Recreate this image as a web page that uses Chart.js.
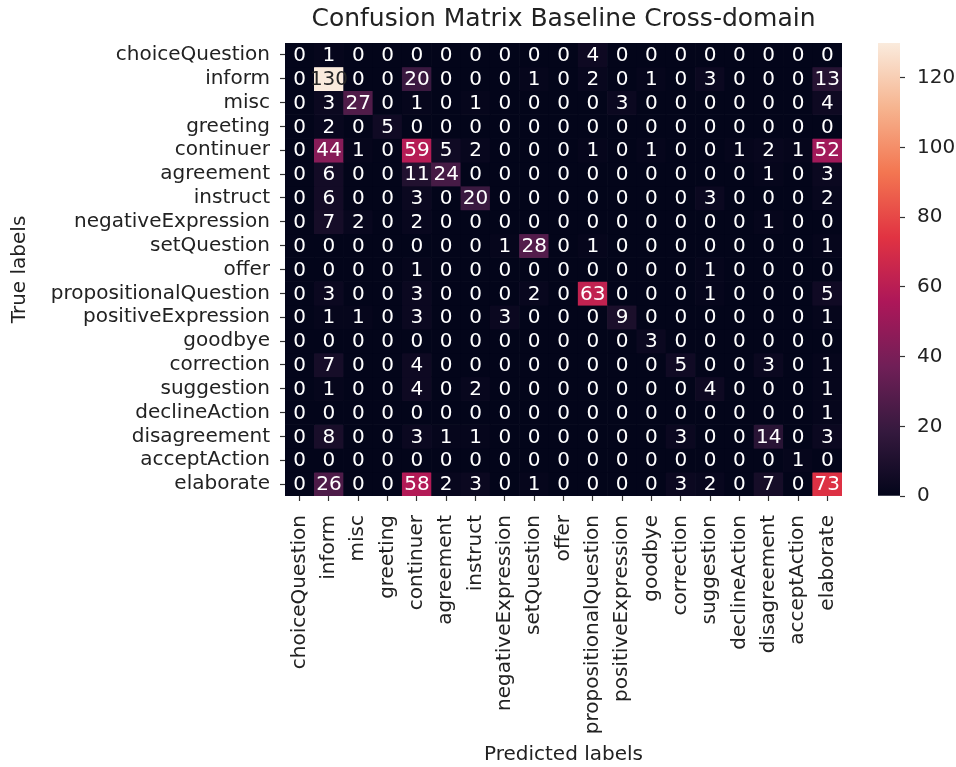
<!DOCTYPE html>
<html>
<head>
<meta charset="utf-8">
<script src="https://cdn.jsdelivr.net/npm/chart.js@4"></script>
<style>
  body { margin: 0; background: #fff; }
  #wrap { position: relative; width: 956px; height: 767px; }
  canvas { position: absolute; left: 0; top: 0; }
</style>
</head>
<body>
<div id="wrap">
  <canvas id="heat" width="956" height="767"></canvas>
  <canvas id="cbar" width="956" height="767"></canvas>
</div>
<script>
const predictedLabels = ['choiceQuestion', 'inform', 'misc', 'greeting', 'continuer', 'agreement', 'instruct',
  'negativeExpression', 'setQuestion', 'offer', 'propositionalQuestion', 'positiveExpression', 'goodbye',
  'correction', 'suggestion', 'declineAction', 'disagreement', 'acceptAction', 'elaborate']
const trueLabels = predictedLabels.slice()

// rows = true label, columns = predicted label
const counts = [
  [0, 1, 0, 0, 0, 0, 0, 0, 0, 0, 4, 0, 0, 0, 0, 0, 0, 0, 0],
  [0, 130, 0, 0, 20, 0, 0, 0, 1, 0, 2, 0, 1, 0, 3, 0, 0, 0, 13],
  [0, 3, 27, 0, 1, 0, 1, 0, 0, 0, 0, 3, 0, 0, 0, 0, 0, 0, 4],
  [0, 2, 0, 5, 0, 0, 0, 0, 0, 0, 0, 0, 0, 0, 0, 0, 0, 0, 0],
  [0, 44, 1, 0, 59, 5, 2, 0, 0, 0, 1, 0, 1, 0, 0, 1, 2, 1, 52],
  [0, 6, 0, 0, 11, 24, 0, 0, 0, 0, 0, 0, 0, 0, 0, 0, 1, 0, 3],
  [0, 6, 0, 0, 3, 0, 20, 0, 0, 0, 0, 0, 0, 0, 3, 0, 0, 0, 2],
  [0, 7, 2, 0, 2, 0, 0, 0, 0, 0, 0, 0, 0, 0, 0, 0, 1, 0, 0],
  [0, 0, 0, 0, 0, 0, 0, 1, 28, 0, 1, 0, 0, 0, 0, 0, 0, 0, 1],
  [0, 0, 0, 0, 1, 0, 0, 0, 0, 0, 0, 0, 0, 0, 1, 0, 0, 0, 0],
  [0, 3, 0, 0, 3, 0, 0, 0, 2, 0, 63, 0, 0, 0, 1, 0, 0, 0, 5],
  [0, 1, 1, 0, 3, 0, 0, 3, 0, 0, 0, 9, 0, 0, 0, 0, 0, 0, 1],
  [0, 0, 0, 0, 0, 0, 0, 0, 0, 0, 0, 0, 3, 0, 0, 0, 0, 0, 0],
  [0, 7, 0, 0, 4, 0, 0, 0, 0, 0, 0, 0, 0, 5, 0, 0, 3, 0, 1],
  [0, 1, 0, 0, 4, 0, 2, 0, 0, 0, 0, 0, 0, 0, 4, 0, 0, 0, 1],
  [0, 0, 0, 0, 0, 0, 0, 0, 0, 0, 0, 0, 0, 0, 0, 0, 0, 0, 1],
  [0, 8, 0, 0, 3, 1, 1, 0, 0, 0, 0, 0, 0, 3, 0, 0, 14, 0, 3],
  [0, 0, 0, 0, 0, 0, 0, 0, 0, 0, 0, 0, 0, 0, 0, 0, 0, 1, 0],
  [0, 26, 0, 0, 58, 2, 3, 0, 1, 0, 0, 0, 0, 3, 2, 0, 7, 0, 73]
]
const colorbarTicks = [0, 20, 40, 60, 80, 100, 120]

const vmax = Math.max(...counts.flat())

// seaborn "rocket" colormap, approximated by a few stops
const rocketStops = [
  [0, '#03051a'], [1 / 7, '#35193e'], [2 / 7, '#701f57'], [3 / 7, '#ad1759'],
  [4 / 7, '#e13342'], [5 / 7, '#f37651'], [6 / 7, '#f6b48f'], [1, '#faebdd']
]

function hexToRgb(h) {
  return [1, 3, 5].map(i => parseInt(h.slice(i, i + 2), 16))
}

function rocket(t) {
  t = Math.min(1, Math.max(0, t))
  for (let i = 1; i < rocketStops.length; i++) {
    const [t1, c1] = rocketStops[i]
    const [t0, c0] = rocketStops[i - 1]
    if (t <= t1) {
      const f = (t - t0) / (t1 - t0)
      const a = hexToRgb(c0), b = hexToRgb(c1)
      return [0, 1, 2].map(k => Math.round(a[k] + (b[k] - a[k]) * f))
    }
  }
  return hexToRgb(rocketStops[rocketStops.length - 1][1])
}

function rgbStr(c) { return 'rgb(' + c.join(',') + ')' }

function isLight(c) {
  const lin = c.map(v => { v /= 255; return v <= 0.03928 ? v / 12.92 : Math.pow((v + 0.055) / 1.055, 2.4) })
  return 0.2126 * lin[0] + 0.7152 * lin[1] + 0.0722 * lin[2] > 0.408
}

Chart.defaults.font.family = '"DejaVu Sans", sans-serif'
Chart.defaults.color = '#222'

const FONT = 20
const TICK_COLOR = '#333'

// one stacked dataset per true-label row, each cell is one unit tall
const datasets = counts.map((row, r) => ({
  label: trueLabels[r],
  data: row.map(() => 1),
  values: row,
  backgroundColor: row.map(v => rgbStr(rocket(v / vmax))),
  borderWidth: 0,
  barPercentage: 1,
  categoryPercentage: 1,
  stack: 'cells'
}))

const annotate = {
  id: 'annotate',
  afterDatasetsDraw(chart) {
    const ctx = chart.ctx
    ctx.save()
    ctx.font = FONT + 'px "DejaVu Sans"'
    ctx.textAlign = 'center'
    ctx.textBaseline = 'middle'
    chart.data.datasets.forEach((ds, i) => {
      chart.getDatasetMeta(i).data.forEach((el, j) => {
        const v = ds.values[j]
        ctx.fillStyle = isLight(rocket(v / vmax)) ? '#262626' : '#ffffff'
        ctx.fillText(String(v), el.x, (el.y + el.base) / 2 + 1)
      })
    })
    ctx.restore()
  }
}

new Chart(document.getElementById('heat'), {
  type: 'bar',
  data: { labels: predictedLabels, datasets: datasets },
  plugins: [annotate],
  options: {
    responsive: false,
    animation: false,
    devicePixelRatio: 1,
    layout: { padding: { left: 0, right: 114, top: 0, bottom: 0 } },
    plugins: {
      legend: { display: false },
      tooltip: { enabled: false },
      title: {
        display: true,
        text: 'Confusion Matrix Baseline Cross-domain',
        fullSize: false,
        font: { size: 25, weight: 'normal' },
        color: '#222',
        padding: { top: 4, bottom: 9 }
      }
    },
    scales: {
      x: {
        stacked: true,
        afterFit(s) { s.height = 271 },
        grid: { offset: false, drawOnChartArea: false, tickLength: 5, tickColor: TICK_COLOR, tickWidth: 1.2 },
        border: { display: false },
        ticks: { autoSkip: false, minRotation: 90, maxRotation: 90, padding: 14, font: { size: FONT } },
        title: { display: true, text: 'Predicted labels', font: { size: FONT }, padding: { top: 2, bottom: 0 } }
      },
      y: {
        stacked: true,
        reverse: true,
        min: 0,
        max: trueLabels.length,
        afterFit(s) { s.width = 285 },
        afterBuildTicks(s) { s.ticks = trueLabels.map((_, i) => ({ value: i + 0.5 })) },
        grid: { drawOnChartArea: false, tickLength: 5, tickColor: TICK_COLOR, tickWidth: 1.2 },
        border: { display: false },
        ticks: {
          autoSkip: false,
          padding: 10,
          font: { size: FONT },
          callback: (value, index) => trueLabels[index]
        },
        title: { display: true, text: 'True labels', font: { size: FONT }, padding: { top: 8, bottom: 0 } }
      }
    }
  }
})

// colour bar
new Chart(document.getElementById('cbar'), {
  type: 'bar',
  data: {
    labels: [''],
    datasets: [{
      data: [vmax],
      borderWidth: 0,
      barPercentage: 1,
      categoryPercentage: 1,
      backgroundColor(c) {
        const area = c.chart.chartArea
        if (!area) return 'transparent'
        const g = c.chart.ctx.createLinearGradient(0, area.bottom, 0, area.top)
        rocketStops.forEach(([t, col]) => g.addColorStop(t, col))
        return g
      }
    }]
  },
  options: {
    responsive: false,
    animation: false,
    devicePixelRatio: 1,
    layout: { padding: { left: 878, right: 0, top: 43, bottom: 271 } },
    plugins: { legend: { display: false }, tooltip: { enabled: false } },
    scales: {
      x: { display: false },
      y: {
        position: 'right',
        min: 0,
        max: vmax,
        afterFit(s) { s.width = 56 },
        afterBuildTicks(s) { s.ticks = colorbarTicks.map(v => ({ value: v })) },
        grid: { drawOnChartArea: false, tickLength: 5, tickColor: TICK_COLOR, tickWidth: 1.2 },
        border: { display: false },
        ticks: { padding: 12, font: { size: FONT } }
      }
    }
  }
})
</script>
</body>
</html>
